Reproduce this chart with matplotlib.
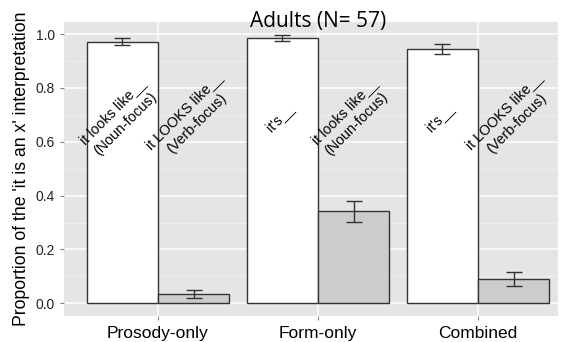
import numpy as np
import matplotlib
matplotlib.use("Agg")
import matplotlib.pyplot as plt
from matplotlib.ticker import MultipleLocator

# data
conditions = ["Prosody-only", "Form-only", "Combined"]
noun_mean = [0.971, 0.984, 0.945]
noun_lo = [0.959, 0.975, 0.926]
noun_hi = [0.984, 0.995, 0.965]
verb_mean = [0.034, 0.342, 0.090]
verb_lo = [0.020, 0.302, 0.065]
verb_hi = [0.049, 0.381, 0.115]
white_labels = ["it looks like__\n(Noun-focus)", "it's__", "it's__"]
gray_labels = ["it LOOKS like__\n(Verb-focus)", "it looks like__\n(Noun-focus)", "it LOOKS like__\n(Verb-focus)"]
title = "Adults (N= 57)"
ylabel = "Proportion of the 'it is an x' interpretation"

plt.rcParams['font.family'] = ['Liberation Sans', 'DejaVu Sans']

fig = plt.figure(figsize=(5.67, 3.42), dpi=100)
ax = fig.add_axes([64/567, 1-316/342, (558-64)/567, (316-22)/342])
ax.set_facecolor('#E5E5E5')

x = np.arange(len(conditions))
w = 0.445
edge = '#333333'

def errs(mean, lo, hi):
    mean, lo, hi = np.array(mean), np.array(lo), np.array(hi)
    return [mean - lo, hi - mean]

ax.bar(x - w/2, noun_mean, w, color='white', edgecolor=edge, linewidth=1, zorder=3)
ax.bar(x + w/2, verb_mean, w, color='#CCCCCC', edgecolor=edge, linewidth=1, zorder=3)
ax.errorbar(x - w/2, noun_mean, yerr=errs(noun_mean, noun_lo, noun_hi), fmt='none',
            ecolor=edge, elinewidth=1, capsize=6, capthick=1, zorder=4)
ax.errorbar(x + w/2, verb_mean, yerr=errs(verb_mean, verb_lo, verb_hi), fmt='none',
            ecolor=edge, elinewidth=1, capsize=6, capthick=1, zorder=4)

for i in range(len(conditions)):
    ax.text(x[i] - w/2 - 0.02, 0.69, white_labels[i], rotation=45, ha='center', va='center',
            fontsize=10.3, zorder=5, linespacing=1.3)
    ax.text(x[i] + w/2 - 0.02, 0.69, gray_labels[i], rotation=45, ha='center', va='center',
            fontsize=10.3, zorder=5, linespacing=1.3)

ax.set_xlim(-0.5875, 2.5)
ax.set_ylim(-0.047, 1.045)
ax.set_xticks(x)
ax.set_xticklabels(conditions, fontsize=12.5, color='black')
ax.yaxis.set_minor_locator(MultipleLocator(0.1))
ax.set_yticks(np.arange(0, 1.01, 0.2))
ax.set_yticklabels(["%.1f" % v for v in np.arange(0, 1.01, 0.2)], fontsize=10, color='#222222')
ax.tick_params(axis='both', which='major', length=3, color='#7F7F7F', width=0.8)
ax.tick_params(axis='x', pad=4)
ax.tick_params(axis='y', which='minor', length=0)
ax.grid(True, which='major', color='white', linewidth=1.1, zorder=0)
ax.grid(True, which='minor', axis='y', color='#F2F2F2', linewidth=0.5, zorder=0)
ax.set_axisbelow(True)
for s in ax.spines.values():
    s.set_visible(False)

ax.set_ylabel(ylabel, fontsize=12.7, labelpad=4)

fig.text(318.5/567, 1-27/342, title, ha='center', va='baseline', fontsize=15,
         family=['Open Sans', 'DejaVu Sans'], zorder=10)

fig.savefig('out.png', dpi=100)
